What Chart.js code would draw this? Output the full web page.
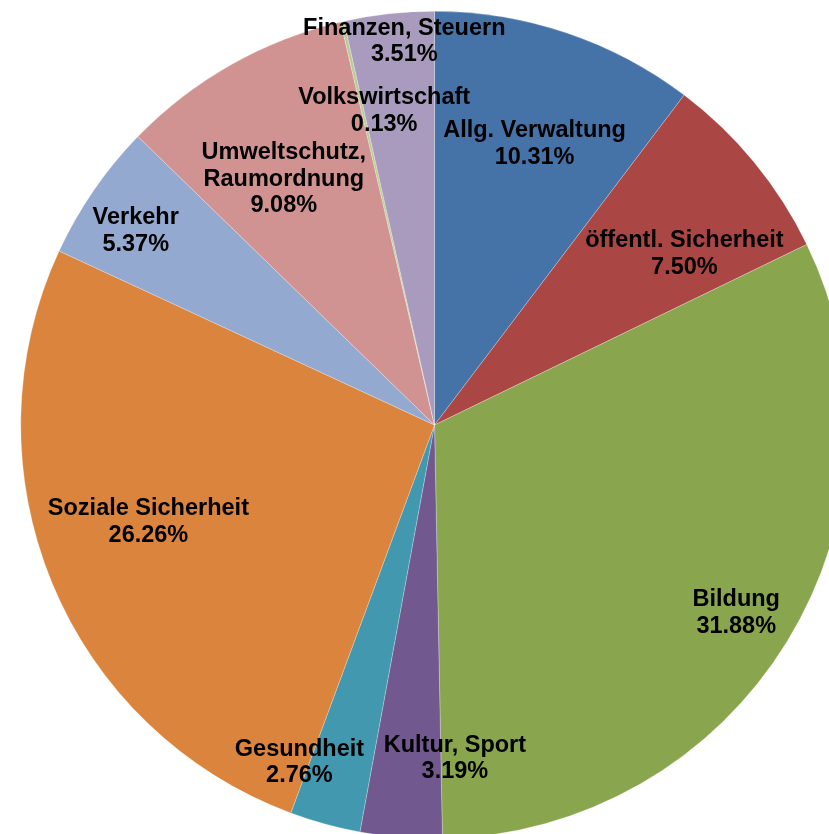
<!DOCTYPE html>
<html>
<head>
<meta charset="utf-8">
<script src="https://cdn.jsdelivr.net/npm/chart.js@4/dist/chart.umd.min.js"></script>
<style>
  html, body { margin: 0; padding: 0; background: #ffffff; overflow: hidden; width: 829px; height: 834px; }
  #wrap { position: absolute; left: 0; top: 0; width: 869px; height: 850px; }
</style>
</head>
<body>
<div id="wrap"><canvas id="c"></canvas></div>
<script>
// ---- data ----
const categories = [
  'Allg. Verwaltung',
  'öffentl. Sicherheit',
  'Bildung',
  'Kultur, Sport',
  'Gesundheit',
  'Soziale Sicherheit',
  'Verkehr',
  ['Umweltschutz,', 'Raumordnung'],
  'Volkswirtschaft',
  'Finanzen, Steuern'
];
const shares = [10.31, 7.50, 31.88, 3.19, 2.76, 26.26, 5.37, 9.08, 0.13, 3.51];

// ---- styles ----
const sliceColors = ['#4572A7', '#AA4643', '#89A54E', '#71588F', '#4198AF',
                     '#DB843D', '#93A9CF', '#D19392', '#B9CD96', '#A99BBD'];
// label placement: polar angle (deg, clockwise from top) and fraction of radius
const labelAngle  = [19.6, 55.6, 121.9, 176.5, 201.8, 251.3, 303.0, 328.5, 350.9, 355.5];
const labelRadius = [0.721, 0.732, 0.859, 0.808, 0.879, 0.730, 0.861, 0.697, 0.769, 0.930];

const labelPlugin = {
  id: 'sliceLabels',
  afterDatasetsDraw(chart) {
    const ctx = chart.ctx;
    const meta = chart.getDatasetMeta(0);
    ctx.save();
    ctx.font = 'bold 23.5px "Liberation Sans", Arial, sans-serif';
    ctx.fillStyle = '#000000';
    ctx.textAlign = 'center';
    ctx.textBaseline = 'middle';
    const lh = 26.5;
    meta.data.forEach((arc, i) => {
      const cat = chart.data.labels[i];
      const lines = (Array.isArray(cat) ? cat.slice() : [cat]);
      lines.push(chart.data.datasets[0].data[i].toFixed(2) + '%');
      const a = labelAngle[i] * Math.PI / 180;
      const r = labelRadius[i] * arc.outerRadius;
      const cx = arc.x + r * Math.sin(a);
      const cy = arc.y - r * Math.cos(a);
      const top = cy - (lines.length - 1) * lh / 2;
      lines.forEach((t, k) => ctx.fillText(t, cx, top + k * lh));
    });
    ctx.restore();
  }
};

new Chart(document.getElementById('c'), {
  type: 'pie',
  data: {
    labels: categories,
    datasets: [{
      data: shares,
      backgroundColor: sliceColors,
      borderColor: 'rgba(255,255,255,0.5)',
      borderWidth: 0.5
    }]
  },
  options: {
    responsive: true,
    maintainAspectRatio: false,
    animation: false,
    layout: { padding: { top: 11, bottom: 11, left: 20, right: 20 } },
    plugins: { legend: { display: false }, tooltip: { enabled: false } }
  },
  plugins: [labelPlugin]
});
</script>
</body>
</html>
